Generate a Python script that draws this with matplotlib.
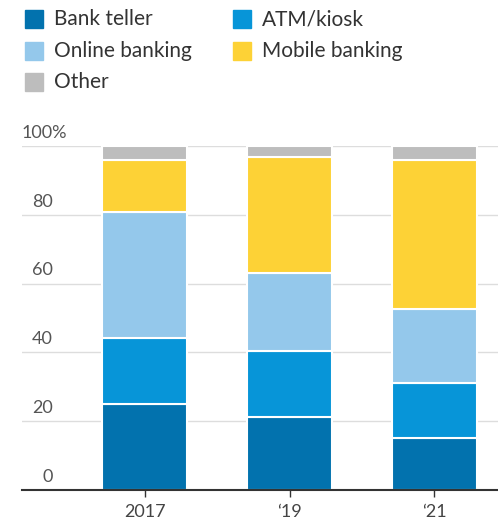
import numpy as np
import matplotlib.pyplot as plt
import matplotlib.transforms as mtransforms
from matplotlib.patches import Rectangle

# Datos
years = ['2017', '\u201819', '\u201821']
bank_teller = [25.0, 21.3, 15.0]
atm_kiosk = [19.1, 19.2, 16.0]
online_banking = [36.6, 22.5, 21.5]
mobile_banking = [15.2, 33.7, 43.4]
other = [4.1, 3.3, 4.1]

series = [('Bank teller', bank_teller, '#0272ae'),
          ('ATM/kiosk', atm_kiosk, '#0795d8'),
          ('Online banking', online_banking, '#94c8eb'),
          ('Mobile banking', mobile_banking, '#fdd236'),
          ('Other', other, '#bdbdbd')]

plt.rcParams['font.family'] = ['Lato', 'DejaVu Sans']

fig = plt.figure(figsize=(4.98, 5.27), dpi=100)
W, H = 498, 527
ax = fig.add_axes([22 / W, 1 - 490 / H, (498 - 22) / W, (490 - 146) / H])

x = np.arange(len(years))
bottom = np.zeros(len(years))
for name, vals, col in series:
    ax.bar(x, vals, bottom=bottom, width=0.586, color=col,
           edgecolor='white', linewidth=1.5, zorder=3)
    bottom += np.array(vals)

ax.set_xlim(-0.845, 2.438)
ax.set_ylim(0, 100)

# Rejilla
for v in [20, 40, 60, 80, 100]:
    ax.axhline(v, color='#dddddd', linewidth=1, zorder=1)
ax.axhline(0, color='#333333', linewidth=1.5, zorder=4, clip_on=False)

for s in ax.spines.values():
    s.set_visible(False)
ax.set_yticks([])
ax.set_xticks(x)
ax.set_xticklabels(years, fontsize=13, color='#444444')
ax.tick_params(axis='x', length=5, width=1, color='#333333', pad=5)

# Etiquetas eje y sobre las lineas
trans = mtransforms.blended_transform_factory(fig.transFigure, ax.transData)
for v in [0, 20, 40, 60, 80]:
    ax.text(53 / W, v + 1.5, str(v), transform=trans, ha='right', va='bottom',
            fontsize=13, color='#555555')
ax.text(22 / W, 101.5, '100%', transform=trans, ha='left', va='bottom',
        fontsize=13, color='#555555')

# Leyenda
leg = [(25, 19, 'Bank teller', '#0272ae'),
       (233, 19, 'ATM/kiosk', '#0795d8'),
       (25, 51, 'Online banking', '#94c8eb'),
       (233, 51, 'Mobile banking', '#fdd236'),
       (25, 82, 'Other', '#bdbdbd')]
for lx, ly, txt, col in leg:
    fig.patches.append(Rectangle((lx / W, 1 - (ly + 9) / H), 18 / W, 18 / H,
                                 transform=fig.transFigure, color=col))
    fig.text((lx + 29) / W, 1 - ly / H, txt, ha='left', va='center',
             fontsize=15, color='#333333')

fig.savefig('out.png', dpi=100)
